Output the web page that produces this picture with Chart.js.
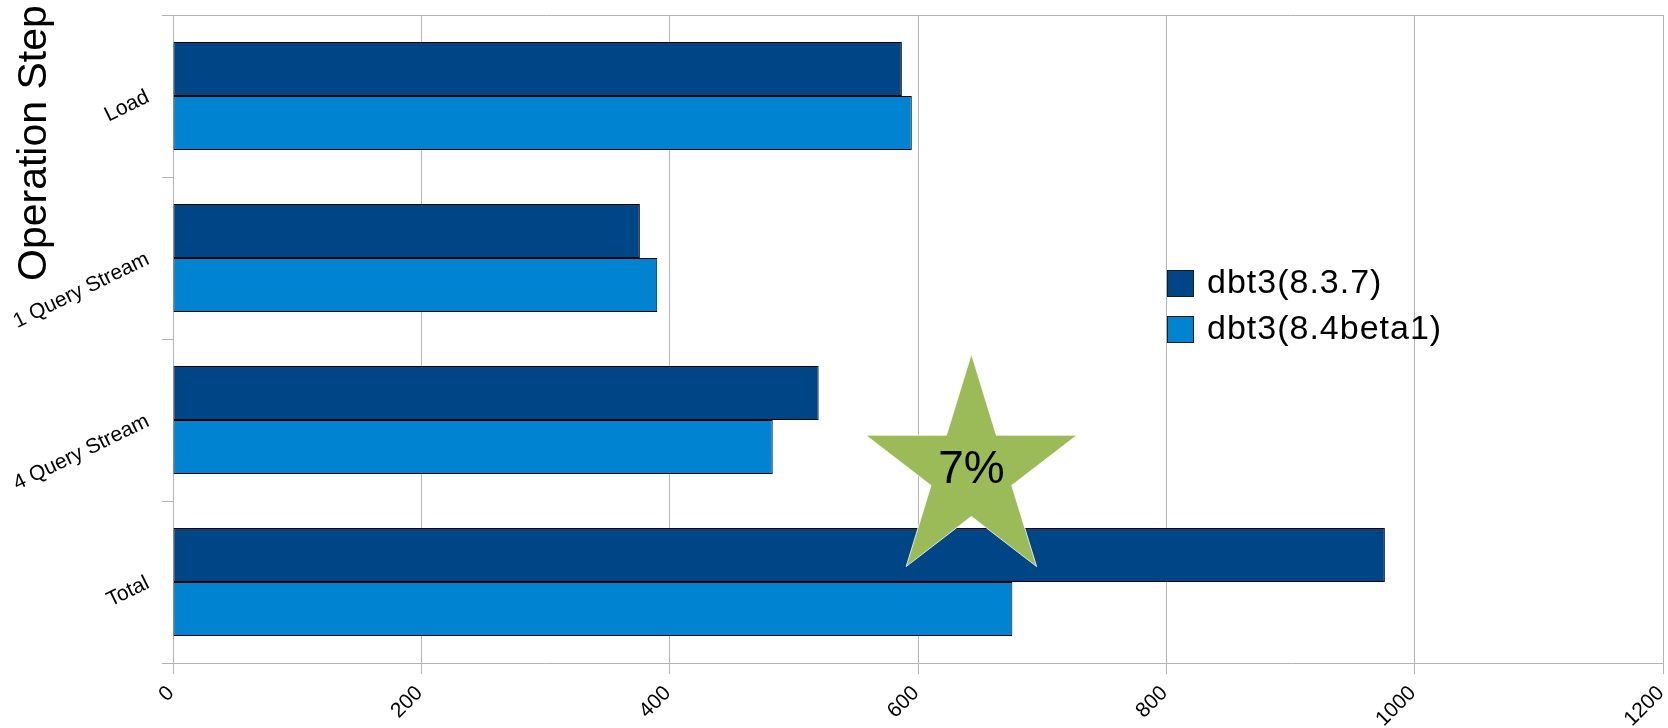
<!DOCTYPE html>
<html>
<head>
<meta charset="utf-8">
<script src="https://cdn.jsdelivr.net/npm/chart.js@4/dist/chart.umd.min.js"></script>
<style>
  html, body { margin: 0; padding: 0; background: #fff; }
  #wrap { width: 1668px; height: 728px; }
</style>
</head>
<body>
<div id="wrap"><canvas id="dbtChart" width="1668" height="728"></canvas></div>
<script>
const steps = ['Load', '1 Query Stream', '4 Query Stream', 'Total'];
const seriesNames = ['dbt3(8.3.7)', 'dbt3(8.4beta1)'];
const v837 = [587, 376, 520, 976];
const v84beta1 = [595, 390, 483, 676];
const xTicks = [0, 200, 400, 600, 800, 1000, 1200];
const axisTitle = 'Operation Step';
const starLabel = '7%';

const gridGray = '#b3b3b3';
const colors = ['#004586', '#0084d1'];
const FONT = '"Liberation Sans", Arial, sans-serif';

// star badge, axis title and legend drawn by hand
const extras = {
    id: 'extras',
    afterDatasetsDraw(chart) {
        const ctx = chart.ctx;
        const area = chart.chartArea;
        const cx = chart.scales.x.getPixelForValue(643);
        const cy = area.top + area.height * 0.7045;
        const rx = 111, ry = 117.5, inner = 0.382;
        ctx.save();
        ctx.beginPath();
        for (let i = 0; i < 10; i++) {
            const a = -Math.PI / 2 + i * Math.PI / 5;
            const k = i % 2 === 0 ? 1 : inner;
            const px = cx + Math.cos(a) * rx * k;
            const py = cy + Math.sin(a) * ry * k;
            if (i === 0) ctx.moveTo(px, py); else ctx.lineTo(px, py);
        }
        ctx.closePath();
        ctx.fillStyle = '#9bbb59';
        ctx.fill();
        ctx.strokeStyle = '#ffffff';
        ctx.lineWidth = 0.8;
        ctx.stroke();
        ctx.fillStyle = '#000';
        ctx.font = '46px ' + FONT;
        ctx.textAlign = 'center';
        ctx.textBaseline = 'middle';
        ctx.fillText(starLabel, cx, cy - 1);
        ctx.restore();
    },
    afterDraw(chart) {
        const ctx = chart.ctx;
        ctx.save();
        // vertical axis title
        ctx.translate(35, 281);
        ctx.rotate(-Math.PI / 2);
        ctx.font = '41px ' + FONT;
        ctx.fillStyle = '#000';
        ctx.textAlign = 'left';
        ctx.textBaseline = 'middle';
        ctx.fillText(axisTitle, 0, 0);
        ctx.restore();

        ctx.save();
        ctx.font = '34px ' + FONT;
        ctx.letterSpacing = '1px';
        ctx.textBaseline = 'middle';
        ctx.textAlign = 'left';
        chart.data.datasets.forEach((ds, i) => {
            const top = 270 + i * 46;
            ctx.fillStyle = ds.backgroundColor;
            ctx.fillRect(1167.5, top + 0.5, 26, 26);
            ctx.strokeStyle = '#1a1a1a';
            ctx.lineWidth = 1;
            ctx.strokeRect(1167.5, top + 0.5, 26, 26);
            ctx.fillStyle = '#000';
            ctx.fillText(ds.label, 1207, top + 14);
        });
        ctx.restore();
    }
};

new Chart(document.getElementById('dbtChart').getContext('2d'), {
    type: 'bar',
    data: {
        labels: steps,
        datasets: [{
            label: seriesNames[0],
            data: v837,
            backgroundColor: colors[0],
            borderColor: '#000',
            borderWidth: 1,
            borderSkipped: false
        }, {
            label: seriesNames[1],
            data: v84beta1,
            backgroundColor: colors[1],
            borderColor: '#000',
            borderWidth: 1,
            borderSkipped: false
        }]
    },
    options: {
        indexAxis: 'y',
        responsive: false,
        animation: false,
        devicePixelRatio: 1,
        barPercentage: 1,
        categoryPercentage: 0.6667,
        layout: { padding: { top: 15, right: 5, left: 0, bottom: 0 } },
        plugins: {
            legend: { display: false },
            tooltip: { enabled: false }
        },
        scales: {
            x: {
                type: 'linear',
                min: xTicks[0],
                max: xTicks[xTicks.length - 1],
                afterBuildTicks(scale) {
                    scale.ticks = xTicks.map(v => ({ value: v }));
                },
                grid: { color: gridGray, tickColor: gridGray, tickLength: 11 },
                border: { color: gridGray },
                ticks: {
                    color: '#000',
                    font: { family: FONT, size: 21 },
                    minRotation: 45,
                    maxRotation: 45,
                    padding: 7,
                    labelOffset: -2,
                    callback: v => String(v)
                },
                afterFit(scale) {
                    scale.height = 65;
                    scale.paddingLeft = 0;
                    scale.paddingRight = 0;
                }
            },
            y: {
                grid: {
                    color: c => c.index === 0 ? gridGray : 'rgba(0,0,0,0)',
                    tickColor: gridGray,
                    tickLength: 11
                },
                border: { color: gridGray },
                ticks: {
                    color: '#000',
                    font: { family: FONT, size: 21 },
                    minRotation: 26,
                    maxRotation: 26,
                    padding: 14
                },
                afterFit(scale) {
                    scale.width = 173;
                    scale.paddingTop = 0;
                    scale.paddingBottom = 0;
                }
            }
        }
    },
    plugins: [extras]
});
</script>
</body>
</html>
